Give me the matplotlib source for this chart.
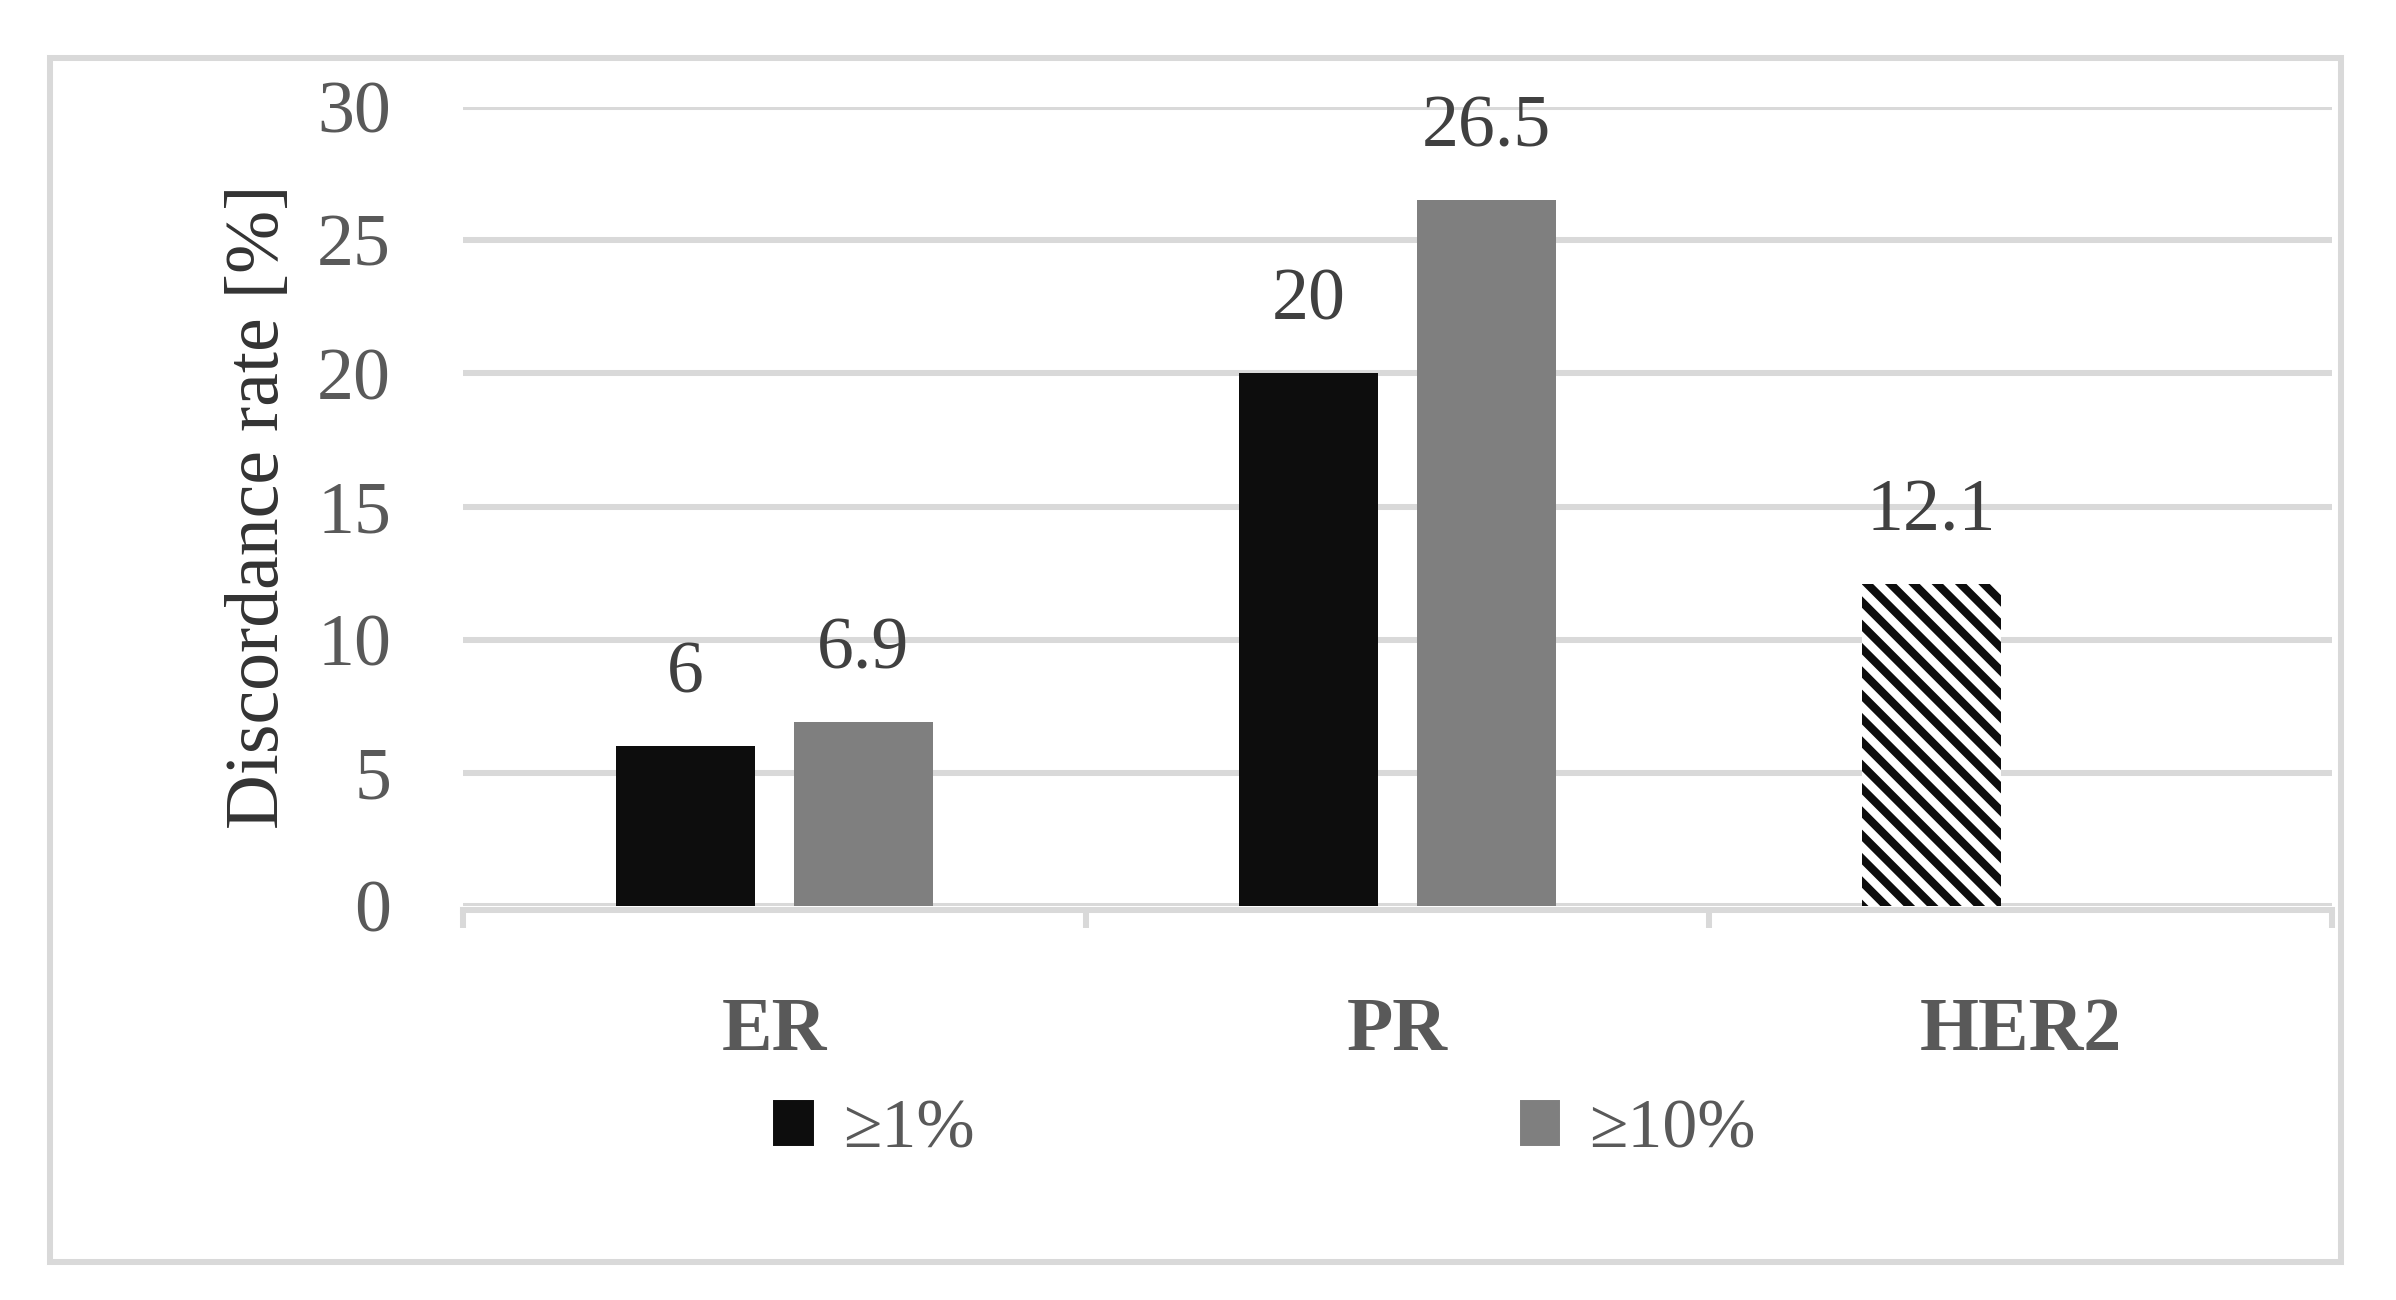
import matplotlib
matplotlib.use("Agg")
import matplotlib.pyplot as plt
import matplotlib.patches as mpatches
from matplotlib.transforms import blended_transform_factory

# data
categories = ["ER", "PR", "HER2"]
rate_1pct = [6.0, 20.0]      # ER, PR at >=1% cut-off
rate_10pct = [6.9, 26.5]     # ER, PR at >=10% cut-off
her2_rate = [12.1]           # HER2 single value
y_ticks = [0, 5, 10, 15, 20, 25, 30]
legend_labels = ["≥1%", "≥10%"]

DPI = 140
W, H = 2396, 1300
plt.rcParams["font.family"] = ["Liberation Serif", "DejaVu Serif"]
plt.rcParams["hatch.linewidth"] = 4.2

fig = plt.figure(figsize=(W / DPI, H / DPI), dpi=DPI)
ax = fig.add_axes([463 / W, 394 / H, (2332 - 463) / W, (1193 - 394) / H])

grid_col = "#d9d9d9"
text_col = "#595959"
black = "#0d0d0d"
grey = "#7f7f7f"
lw = 3.1

width = 0.224
off = 0.1425
x = list(range(len(categories)))

b1 = ax.bar([i - off for i in x[:2]], rate_1pct, width, color=black, zorder=3)
b2 = ax.bar([i + off for i in x[:2]], rate_10pct, width, color=grey, zorder=3)
b3 = ax.bar([x[2] - off], her2_rate, width, facecolor="white", edgecolor=black,
            linewidth=0, hatch="\\\\", zorder=3)

# value labels
for bars, vals in ((b1, rate_1pct), (b2, rate_10pct), (b3, her2_rate)):
    for r, v in zip(bars, vals):
        ax.annotate(f"{v:g}", (r.get_x() + r.get_width() / 2, v),
                    xytext=(0, 27.5), textcoords="offset points",
                    ha="center", va="baseline", fontsize=38, color="#404040")

ax.set_ylim(0, 30)
ax.set_xlim(-0.5, 2.5)
ax.set_yticks(y_ticks)
ax.yaxis.grid(True, color=grid_col, linewidth=lw, zorder=0)
ax.set_axisbelow(True)
ax.tick_params(axis="y", length=0, pad=37, labelsize=38, labelcolor=text_col)

for s in ("top", "right", "left"):
    ax.spines[s].set_visible(False)
ax.spines["bottom"].set_color(grid_col)
ax.spines["bottom"].set_linewidth(lw)
ax.spines["bottom"].set_position(("outward", 2))
ax.set_xticks([-0.5, 0.5, 1.5, 2.5])
ax.tick_params(axis="x", direction="out", length=9, width=lw, color=grid_col,
               labelbottom=False)

# category labels
trans = blended_transform_factory(ax.transData, fig.transFigure)
for i, c in enumerate(categories):
    ax.text(i, 250 / H, c, transform=trans, ha="center", va="baseline",
            fontsize=39, fontweight="bold", color=text_col)

fig.text(260 / W, 0.61, "Discordance rate [%]", rotation=90, ha="center",
         va="center", fontsize=39, color="#333333")

handles = [mpatches.Patch(color=black), mpatches.Patch(color=grey)]
fig.legend(handles, legend_labels, loc="center", bbox_to_anchor=(0.528, 0.130),
           ncol=2, frameon=False, fontsize=36, labelcolor=text_col,
           handlelength=0.55, handleheight=0.6, handletextpad=0.43,
           columnspacing=7.8)

# outer frame
fig.patches.append(mpatches.Rectangle((50 / W, (H - 1262) / H), (2341 - 50) / W,
                                      (1262 - 58) / H, transform=fig.transFigure,
                                      fill=False, edgecolor=grid_col, linewidth=lw))

fig.savefig("out.png", dpi=DPI)
